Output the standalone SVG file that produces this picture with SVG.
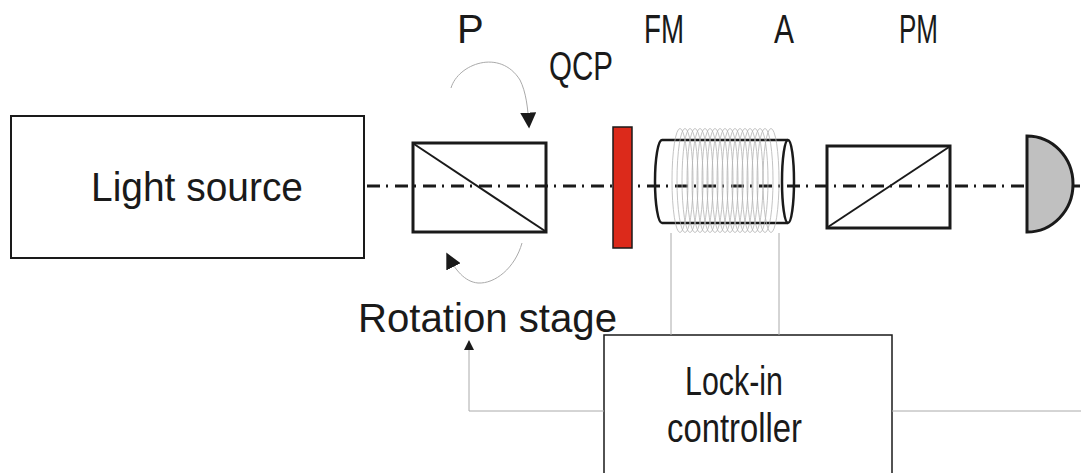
<svg xmlns="http://www.w3.org/2000/svg" width="1081" height="473" viewBox="0 0 1081 473">
<defs>
<style>
.lbl{font-family:"Liberation Sans",Arial,sans-serif;font-size:40px;fill:#1a1a1a}
.box{fill:#fff;stroke:#1a1a1a}
.thin{fill:none;stroke:#aaa;stroke-width:1}
.coil{fill:none;stroke:#b4b4b4;stroke-width:0.8}
</style>
<marker id="ah" viewBox="0 0 10 10" refX="9" refY="5" markerWidth="10" markerHeight="10" markerUnits="userSpaceOnUse" orient="auto">
<path d="M0,0 L10,5 L0,10 Z" fill="#1a1a1a"/>
</marker>
<marker id="ah2" viewBox="0 0 10 10" refX="9" refY="5" markerWidth="16" markerHeight="16" markerUnits="userSpaceOnUse" orient="auto">
<path d="M0,0 L10,5 L0,10 Z" fill="#1a1a1a"/>
</marker>
</defs>
<rect width="1081" height="473" fill="#fff"/>

<g id="light-source">
<rect class="box" x="11" y="116" width="353" height="142" stroke-width="2"/>
<text class="lbl" x="91" y="201" textLength="212" lengthAdjust="spacingAndGlyphs">Light source</text>
</g>

<g id="beam">
<line x1="367" y1="186" x2="1081" y2="186" stroke="#1a1a1a" stroke-width="2.8" stroke-dasharray="13 6 2 7"/>
</g>

<g id="polarizer">
<rect x="413" y="143" width="133" height="89" fill="none" stroke="#1a1a1a" stroke-width="3"/>
<line x1="414" y1="144" x2="545" y2="231" stroke="#1a1a1a" stroke-width="2"/>
<text class="lbl" x="457" y="43">P</text>
</g>

<g id="qcp">
<rect x="613" y="127" width="19" height="121" fill="#dc2a1b" stroke="#1a1a1a" stroke-width="1.5"/>
<text class="lbl" x="549" y="80" textLength="64" lengthAdjust="spacingAndGlyphs">QCP</text>
</g>

<g id="fm">
<path d="M662,140 A7,41.5 0 0 0 662,223" fill="none" stroke="#1a1a1a" stroke-width="2.5"/>
<line x1="662" y1="140" x2="788" y2="140" stroke="#1a1a1a" stroke-width="2.5"/>
<line x1="662" y1="223" x2="788" y2="223" stroke="#1a1a1a" stroke-width="2.5"/>
<g class="coil">
<ellipse cx="680" cy="180.5" rx="8" ry="52"/>
<ellipse cx="685" cy="180.5" rx="8" ry="52"/>
<ellipse cx="690" cy="180.5" rx="8" ry="52"/>
<ellipse cx="695" cy="180.5" rx="8" ry="52"/>
<ellipse cx="700" cy="180.5" rx="8" ry="52"/>
<ellipse cx="705" cy="180.5" rx="8" ry="52"/>
<ellipse cx="710" cy="180.5" rx="8" ry="52"/>
<ellipse cx="715" cy="180.5" rx="8" ry="52"/>
<ellipse cx="720" cy="180.5" rx="8" ry="52"/>
<ellipse cx="725" cy="180.5" rx="8" ry="52"/>
<ellipse cx="730" cy="180.5" rx="8" ry="52"/>
<ellipse cx="735" cy="180.5" rx="8" ry="52"/>
<ellipse cx="740" cy="180.5" rx="8" ry="52"/>
<ellipse cx="745" cy="180.5" rx="8" ry="52"/>
<ellipse cx="750" cy="180.5" rx="8" ry="52"/>
<ellipse cx="755" cy="180.5" rx="8" ry="52"/>
<ellipse cx="760" cy="180.5" rx="8" ry="52"/>
<ellipse cx="765" cy="180.5" rx="8" ry="52"/>
<ellipse cx="771" cy="180.5" rx="8" ry="52"/>
</g>
<ellipse cx="788" cy="181.5" rx="6" ry="41.5" fill="none" stroke="#1a1a1a" stroke-width="2.5"/>
<text class="lbl" x="644" y="43" textLength="40" lengthAdjust="spacingAndGlyphs">FM</text>
</g>

<g id="analyzer">
<rect x="827" y="146" width="123" height="82" fill="none" stroke="#1a1a1a" stroke-width="3"/>
<line x1="828" y1="227" x2="949" y2="147" stroke="#1a1a1a" stroke-width="2"/>
<text class="lbl" x="774" y="43" textLength="20" lengthAdjust="spacingAndGlyphs">A</text>
</g>

<g id="pm">
<path d="M1027,136 A46,48 0 0 1 1027,232 Z" fill="#c0c0c0" stroke="#1a1a1a" stroke-width="3"/>
<text class="lbl" x="899" y="43" textLength="39" lengthAdjust="spacingAndGlyphs">PM</text>
</g>

<g id="rotation-stage">
<text class="lbl" x="358" y="332" textLength="259" lengthAdjust="spacingAndGlyphs">Rotation stage</text>
</g>

<g id="lock-in">
<rect class="box" x="604" y="335" width="288" height="150" stroke-width="1.5"/>
<text class="lbl" x="685" y="395" textLength="98" lengthAdjust="spacingAndGlyphs">Lock-in</text>
<text class="lbl" x="667" y="442" textLength="135" lengthAdjust="spacingAndGlyphs">controller</text>
</g>

<g id="connectors">
<path class="thin" d="M451,88 C458,64 500,48 520,80 C526,92 528,108 529,127" marker-end="url(#ah2)"/>
<path class="thin" d="M522,243 C515,268 495,284 478,283 C465,282 455,270 447,254" marker-end="url(#ah2)"/>
<line class="thin" x1="671" y1="233" x2="671" y2="335"/>
<line class="thin" x1="779" y1="233" x2="779" y2="335"/>
<path class="thin" d="M604,411 L469,411 L469,341" marker-end="url(#ah)"/>
<line class="thin" x1="892" y1="411" x2="1081" y2="411"/>
</g>
</svg>
